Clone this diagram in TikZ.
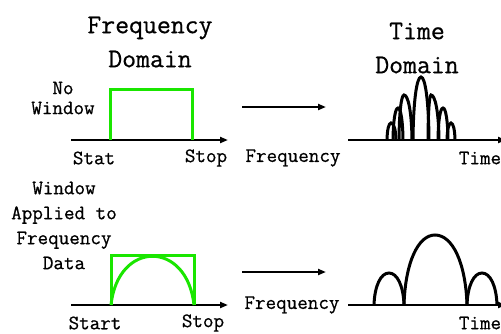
\documentclass[tikz,border=0pt]{standalone}
\usepackage{fontspec}
\setmainfont{Latin Modern Mono}[FakeBold=0.7]
\usetikzlibrary{arrows.meta}
\newcommand\lobearch[5]{% a p b top base
  (#1,#5) .. controls ({#1+0.04*(#2-#1)},{#5+0.6*(#4-#5)}) and ({#2-0.55*(#2-#1)},#4) .. (#2,#4)
  .. controls ({#2+0.55*(#3-#2)},#4) and ({#3-0.04*(#3-#2)},{#5+0.6*(#4-#5)}) .. (#3,#5)}
\begin{document}
\begin{tikzpicture}[x=1pt,y=-1pt,
  big/.style={font=\fontsize{27}{34}\selectfont, align=center, inner sep=0pt},
  small/.style={font=\fontsize{20.5}{20}\selectfont, align=center, inner sep=0pt},
  axis/.style={line width=2pt, -{Triangle[length=8pt,width=6pt]}},
  win/.style={line width=3pt, color={rgb,255:red,26;green,230;blue,0}},
  lobe/.style={line width=3pt, black}]
\useasboundingbox (0,0) rectangle (501,333);

% titles
\node[big] (tf) at (150,42) {Frequency\\Domain};
\node[big] (tt) at (417,48) {Time\\Domain};

% top row
\node[small] (nw) at (63,98) {No\\Window};
\coordinate (a1s) at (71,140); \coordinate (a1e) at (228,140);
\draw[axis] (a1s) -- (a1e);
\draw[win] (110,140) -- (110,89) -- (192,89) -- (192,140);
\node[small] (stat) at (94,158) {Stat};
\node[small] (stop1) at (206,158) {Stop};
\coordinate (m1s) at (242,107); \coordinate (m1e) at (326,107);
\draw[axis] (m1s) -- (m1e);
\node[small] (fq1) at (293,158) {Frequency};
\coordinate (t1s) at (348,140); \coordinate (t1e) at (506,140);
\draw[axis] (t1s) -- (t1e);
\node[small] (tm1) at (480,158) {Time};
\draw[lobe] \lobearch{387}{391}{396}{123}{140};
\draw[lobe] \lobearch{393}{398}{403}{108}{140};
\draw[lobe] \lobearch{399}{404}{412}{95}{140};
\draw[lobe] \lobearch{413}{421}{429}{77}{140};
\draw[lobe] \lobearch{428}{431}{439}{95}{140};
\draw[lobe] \lobearch{438}{443}{448}{108}{140};
\draw[lobe] \lobearch{447}{451}{455}{123}{140};

% bottom row
\node[small, font=\fontsize{20.5}{25}\selectfont] (wa) at (64,225.5) {Window\\Applied to\\Frequency\\Data};
\coordinate (a2s) at (71,305); \coordinate (a2e) at (228,305);
\draw[axis] (a2s) -- (a2e);
\draw[win] (111,305) -- (111,255) -- (194,255) -- (194,305);
\draw[win] (111,305) .. controls (118,240) and (187,240) .. (194,305);
\node[small] (start) at (95,323) {Start};
\node[small] (stop2) at (203,323) {Stop};
\coordinate (m2s) at (242,272); \coordinate (m2e) at (326,272);
\draw[axis] (m2s) -- (m2e);
\node[small] (fq2) at (292,305) {Frequency};
\coordinate (t2s) at (348,305); \coordinate (t2e) at (506,305);
\draw[axis] (t2s) -- (t2e);
\node[small] (tm2) at (480,323) {Time};
\draw[lobe] \lobearch{374}{389}{404}{273}{305};
\draw[lobe] \lobearch{404}{435}{467}{235}{305};
\draw[lobe] \lobearch{467}{482}{497}{273}{305};
\end{tikzpicture}
\end{document}
